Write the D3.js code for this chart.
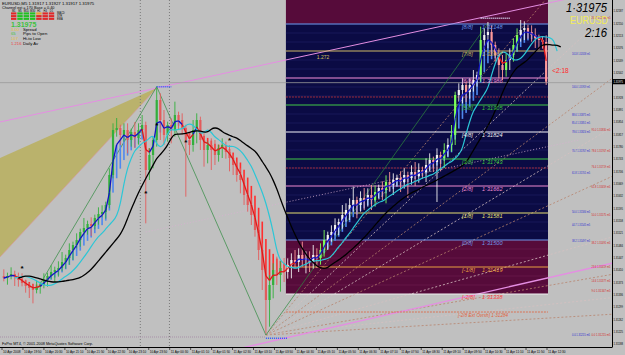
<!DOCTYPE html>
<html>
<head>
<meta charset="utf-8">
<script src="https://cdn.jsdelivr.net/npm/d3@7"></script>
<style>
html, body { margin: 0; padding: 0; background: #c0c0c0; overflow: hidden; }
svg { display: block; font-family: "Liberation Sans", Arial, sans-serif; }
</style>
</head>
<body>
<div id="chart"></div>
<script>
// chart size
const W = 625, H = 355;
const plotRight = 612, plotBottom = 347;
const PIP = 0.0001;

// EURUSD M5 closes
const closes = [
    1.31386, 1.31392, 1.31398, 1.31392, 1.31380, 1.31371, 1.31362, 1.31356, 1.31350, 1.31359,
    1.31365, 1.31380, 1.31392, 1.31404, 1.31410, 1.31416, 1.31434, 1.31446, 1.31470, 1.31485,
    1.31500, 1.31524, 1.31536, 1.31548, 1.31542, 1.31566, 1.31578, 1.31584, 1.31605, 1.31695,
    1.31830, 1.31836, 1.31815, 1.31830, 1.31800, 1.31824, 1.31806, 1.31830, 1.31845, 1.31710,
    1.31755, 1.31800, 1.31920, 1.31860, 1.31815, 1.31845, 1.31830, 1.31875, 1.31860, 1.31836,
    1.31800, 1.31785, 1.31830, 1.31860, 1.31800, 1.31770, 1.31785, 1.31770, 1.31755, 1.31776,
    1.31785, 1.31764, 1.31746, 1.31725, 1.31695, 1.31680, 1.31635, 1.31605, 1.31575, 1.31530,
    1.31470, 1.31410, 1.31320, 1.31365, 1.31410, 1.31395, 1.31416, 1.31404, 1.31425, 1.31440,
    1.31434, 1.31455, 1.31440, 1.31446, 1.31434, 1.31455, 1.31446, 1.31470, 1.31500, 1.31515,
    1.31524, 1.31545, 1.31554, 1.31575, 1.31590, 1.31605, 1.31620, 1.31605, 1.31626, 1.31620,
    1.31635, 1.31620, 1.31644, 1.31656, 1.31650, 1.31674, 1.31665, 1.31680, 1.31686, 1.31674,
    1.31695, 1.31686, 1.31704, 1.31692, 1.31710, 1.31704, 1.31725, 1.31740, 1.31734, 1.31755,
    1.31746, 1.31770, 1.31785, 1.31815, 1.31935, 1.31950, 1.31965, 1.31944, 1.31965, 1.31980,
    1.31995, 1.32100, 1.32115, 1.32124, 1.32085, 1.32055, 1.32025, 1.32010, 1.32040, 1.32055,
    1.32085, 1.32115, 1.32130, 1.32136, 1.32124, 1.32115, 1.32106, 1.32100, 1.32094, 1.31975
];
const firstOpen = 1.31392;
// wick lengths in pips above / below the body
const upWick = [
    2,1,2,1,1,2,1,1,1,2, 1,2,1,2,1,2,3,1,2,1, 2,1,3,1,2,1,2,2,1,2, 2,3,1,2,2,1,3,2,3,1,
    2,1,4,2,3,1,2,4,1,2, 1,2,3,2,1,2,1,2,3,1, 2,1,2,1,1,2,1,1,2,1, 1,2,1,3,2,4,2,3,2,2,
    3,2,4,2,2,3,2,2,3,1, 2,2,1,3,2,2,4,1,2,3, 2,3,2,1,2,2,3,2,1,2, 2,1,2,3,2,1,2,2,1,2,
    1,2,2,3,1,2,2,1,2,3, 1,4,2,3,2,1,2,3,2,2, 2,2,3,2,1,2,2,1,1,2
];
const dnWick = [
    1,2,1,3,2,1,2,3,4,1, 2,1,2,1,3,2,1,2,2,3, 1,2,1,2,3,1,2,1,2,1, 1,2,3,2,4,2,3,2,1,16,
    3,4,2,6,3,2,4,2,3,2, 17,3,2,4,3,5,4,6,3,2, 3,2,4,3,2,4,3,2,3,2, 3,6,10,8,4,3,5,3,2,4,
    2,3,2,4,3,2,3,2,2,3, 2,1,3,2,2,3,2,4,2,3, 2,3,2,2,3,4,2,3,2,3, 2,6,2,3,2,2,3,2,3,12,
    4,3,2,2,3,2,4,3,2,2, 2,2,3,4,3,2,4,3,2,3, 2,2,2,3,2,2,3,3,2,1
];

// time axis labels
const timeLabels = [
    "10 Apr 2008", "10 Apr 19:50", "10 Apr 20:30", "10 Apr 21:10", "10 Apr 21:50", "10 Apr 22:30",
    "10 Apr 23:10", "10 Apr 23:50", "11 Apr 00:30", "11 Apr 01:10", "11 Apr 01:50", "11 Apr 02:30",
    "11 Apr 03:10", "11 Apr 03:50", "11 Apr 04:30", "11 Apr 05:10", "11 Apr 05:50", "11 Apr 06:30",
    "11 Apr 07:10", "11 Apr 07:50", "11 Apr 08:30", "11 Apr 09:10", "11 Apr 09:50", "11 Apr 10:30",
    "11 Apr 11:10", "11 Apr 11:50", "11 Apr 12:30"
];
// price axis labels
const priceTicks = [
    1.32187, 1.32150, 1.32113, 1.32076, 1.32039, 1.32002, 1.31928, 1.31891, 1.31854, 1.31817,
    1.31780, 1.31743, 1.31706, 1.31669, 1.31632, 1.31595, 1.31558, 1.31521, 1.31484, 1.31447,
    1.31410, 1.31373, 1.31336, 1.31299, 1.31262, 1.31225, 1.31188
];
const bidPrice = 1.31975;

// Murrey math levels
const mmNames = ["[-2/8]", "[-1/8]", "[0/8]", "[1/8]", "[2/8]", "[3/8]", "[4/8]", "[5/8]", "[6/8]", "[7/8]", "[8/8]"];
const mmPrices = [1.31338, 1.31419, 1.31500, 1.31581, 1.31662, 1.31743, 1.31824, 1.31905, 1.31986, 1.32067, 1.32148];
const mmStartBar = 78;
const pivotLines = [1.31929, 1.31716];
const extremePrice = 1.31284;

// fib fan from the low to the high
const fanLow = [72, 1.31215];
const fanHigh = [143, 1.32145];
const fanRatios = [1, 0.786, 0.618, 0.5, 0.382, 0.236, 0.146, 0.09, 0.05];

// wedge + trend lines (bar index, price)
const wedgeApex = [42, 1.31956];
const wedgeLeftPrices = [1.31746, 1.31449];
const pinkUpper = [[-1.05, 1.31854], [42, 1.31956]];
const pinkLower = [[57, 1.31155], [171, 1.31440]];
const dottedTrend = [[39, 1.31524], [158, 1.31800]];
const zigzag = [[9, 1.31350], [42, 1.31960], [72, 1.31215], [133, 1.32150]];
const levelMarks = [[42, 46, 1.31960], [72, 78, 1.31205], [131, 139, 1.32165]];
const separatorBars = [38, 46];
const starBars = [5, 42, 39, 50, 62];
const starPrices = [1.31416, 1.31845, 1.31641, 1.31794, 1.31800];

// fib labels at the right
const blueFib = ["161.8", "100.0", "88.6", "85.4", "78.6", "70.7", "61.8", "50.0", "44.7", "38.2", "0.0"];
const bluePrices = [1.32058, 1.31959, 1.31875, 1.31851, 1.31824, 1.31767, 1.31701, 1.31584, 1.31545, 1.31497, 1.31215];
const redFib = ["261.8", "95.0", "78.6", "76.4", "61.8", "50.0", "38.2", "23.6", "14.6", "9.0", "0.0"];
const redPrices = [1.32166, 1.31830, 1.31767, 1.31719, 1.31659, 1.31575, 1.31491, 1.31419, 1.31377, 1.31347, 1.31215];

// info panel
const tfNames = ["M1", "M5", "M15", "M30", "H1", "H4", "D1"];
const rowNames = ["MACD", "STR", "EMA"];
const tfState = [
    [-1, 1, 1, 1, 0, -1, -1],
    [-1, 1, 1, 1, -1, -1, -1],
    [-1, 1, 1, 1, -1, -1, -1]
];
const statValues = ["3.00", "65", "107", "1.216"];
const statNames = ["Spread", "Pips to Open", "Hi-to Low", "Daily Av"];

// ---------------------------------------------------------------
const x = d3.scaleLinear().domain([-0.5, closes.length - 0.5]).range([2, 548]);
const step = x(1) - x(0);
const y = d3.scaleLinear().domain([1.31179, 1.32220]).range([plotBottom, 0]);

const bars = closes.map((c, i) => {
    const o = i ? closes[i - 1] : firstOpen;   // bars open at the previous close
    return { i: i, o: o, c: c, h: Math.max(o, c) + upWick[i] * PIP, l: Math.min(o, c) - dnWick[i] * PIP };
});

function ema(arr, n) {
    const k = 2 / (n + 1), out = [];
    arr.forEach((v, i) => out.push(i ? out[i - 1] + k * (v - out[i - 1]) : v));
    return out;
}
function sma(arr, n) {
    return arr.map((v, i) => d3.mean(arr.slice(Math.max(0, i - n + 1), i + 1)));
}
const fast = ema(closes, 3);
const slow = ema(closes, 8);
const cyan = ema(closes, 6);
const black = sma(closes, 14);

const svg = d3.select("#chart").append("svg")
    .attr("width", W)
    .attr("height", H);

svg.append("rect").attr("width", W).attr("height", H).attr("fill", "#c0c0c0");
svg.append("defs").append("clipPath").attr("id", "plotClip")
    .append("rect").attr("width", plotRight).attr("height", plotBottom);

const g = svg.append("g").attr("clip-path", "url(#plotClip)");

// Murrey boxes
const boxL = x(mmStartBar) - step / 2, boxR = x(closes.length - 1) + step / 2;
const mmStep = mmPrices[1] - mmPrices[0];
g.append("rect").attr("x", boxL).attr("width", boxR - boxL)
    .attr("y", 0).attr("height", y(mmPrices[10])).attr("fill", "#560b3a");
g.append("rect").attr("x", boxL).attr("width", boxR - boxL)
    .attr("y", y(mmPrices[10])).attr("height", y(mmPrices[2]) - y(mmPrices[10])).attr("fill", "#0b0b44");
g.append("rect").attr("x", boxL).attr("width", boxR - boxL)
    .attr("y", y(mmPrices[2])).attr("height", y(mmPrices[0]) - y(mmPrices[2])).attr("fill", "#560b3a");

// faint sub-level lines inside the boxes
const subLevels = d3.range(0, 31).map(k => mmPrices[0] + k * mmStep / 3)
    .filter(p => mmPrices.indexOf(p) < 0);
g.selectAll(".sub").data(subLevels).enter().append("line")
    .attr("class", "sub")
    .attr("x1", boxL).attr("x2", boxR)
    .attr("y1", d => y(d)).attr("y2", d => y(d))
    .attr("stroke", d => (d > mmPrices[2] && d < mmPrices[10]) ? "#23236a" : "#6e1f50")
    .attr("stroke-width", 0.6);

// khaki wedge
const xLeft = x.invert(0);
g.append("path")
    .attr("d", d3.line()([
        [x(xLeft), y(wedgeLeftPrices[0])],
        [x(wedgeApex[0]), y(wedgeApex[1])],
        [x(xLeft), y(wedgeLeftPrices[1])]
    ]) + "Z")
    .attr("fill", "#bab26c");
g.append("line")
    .attr("x1", x(xLeft)).attr("y1", y(wedgeLeftPrices[1]))
    .attr("x2", x(wedgeApex[0])).attr("y2", y(wedgeApex[1]))
    .attr("stroke", "#d89a9a").attr("stroke-width", 0.7);

// period separators
g.selectAll(".sep").data(separatorBars).enter().append("line")
    .attr("x1", d => x(d) - step / 2).attr("x2", d => x(d) - step / 2)
    .attr("y1", 0).attr("y2", plotBottom)
    .attr("stroke", "#7a7a7a").attr("stroke-dasharray", "1,2");

// low dotted line
g.append("line")
    .attr("x1", 0).attr("x2", x(fanLow[0]))
    .attr("y1", y(fanLow[1] - 0.00006)).attr("y2", y(fanLow[1] - 0.00006))
    .attr("stroke", "#a890a8").attr("stroke-dasharray", "1,1");

// fan lines
const barEnd = x.invert(plotRight);
g.selectAll(".fan").data(fanRatios).enter().append("line")
    .attr("x1", x(fanLow[0])).attr("y1", y(fanLow[1]))
    .attr("x2", x(barEnd))
    .attr("y2", r => y(fanLow[1] + r * (fanHigh[1] - fanLow[1]) * (barEnd - fanLow[0]) / (fanHigh[0] - fanLow[0])))
    .attr("stroke", (r, i) => i % 2 ? "#d6c0c0" : "#b8836c")
    .attr("stroke-width", 0.8)
    .attr("stroke-dasharray", "2,2");

// trend lines
function extend(pts, bar) {
    const s = (pts[1][1] - pts[0][1]) / (pts[1][0] - pts[0][0]);
    return pts[0][1] + s * (bar - pts[0][0]);
}
g.append("line")
    .attr("x1", x(pinkUpper[0][0])).attr("y1", y(pinkUpper[0][1]))
    .attr("x2", x(barEnd)).attr("y2", y(extend(pinkUpper, barEnd)))
    .attr("stroke", "#e48ee2").attr("stroke-width", 1);
g.append("line")
    .attr("x1", x(pinkLower[0][0])).attr("y1", y(pinkLower[0][1]))
    .attr("x2", x(barEnd)).attr("y2", y(extend(pinkLower, barEnd)))
    .attr("stroke", "#e48ee2").attr("stroke-width", 1.4);
g.append("line")
    .attr("x1", x(dottedTrend[0][0])).attr("y1", y(dottedTrend[0][1]))
    .attr("x2", x(dottedTrend[1][0])).attr("y2", y(dottedTrend[1][1]))
    .attr("stroke", "#d8b0d0").attr("stroke-width", 0.8).attr("stroke-dasharray", "1,2");

// Murrey lines
const mmColors = ["#f0f0f0", "#e8a040", "#7098e8", "#e8e070", "#f08ad0", "#3cc43c",
    "#eeeeee", "#3cc43c", "#f08ad0", "#c9b45c", "#7098e8"];
g.selectAll(".mm").data(mmPrices).enter().append("line")
    .attr("x1", boxL).attr("x2", boxR)
    .attr("y1", d => y(d)).attr("y2", d => y(d))
    .attr("stroke", (d, i) => mmColors[i])
    .attr("stroke-width", 1.2);
g.selectAll(".piv").data(pivotLines).enter().append("line")
    .attr("x1", boxL).attr("x2", boxR)
    .attr("y1", d => y(d)).attr("y2", d => y(d))
    .attr("stroke", "#a02a3a").attr("stroke-dasharray", "2,1");
g.append("line")
    .attr("x1", boxL).attr("x2", boxR)
    .attr("y1", y(extremePrice)).attr("y2", y(extremePrice))
    .attr("stroke", "#e0603a").attr("stroke-width", 0.8).attr("stroke-dasharray", "2,1");

// bid line
g.append("line")
    .attr("x1", 0).attr("x2", plotRight)
    .attr("y1", y(bidPrice) + 1).attr("y2", y(bidPrice) + 1)
    .attr("stroke", "#9a9a9a").attr("stroke-width", 0.8);

// zigzag
g.append("path")
    .attr("d", d3.line().x(d => x(d[0])).y(d => y(d[1]))(zigzag))
    .attr("fill", "none").attr("stroke", "#2e8a3e").attr("stroke-width", 0.7);

// trend histogram between fast and slow averages
g.selectAll(".ha").data(bars).enter().append("rect")
    .attr("x", d => x(d.i) - 0.8)
    .attr("width", 1.6)
    .attr("y", d => y(Math.max(fast[d.i], slow[d.i])))
    .attr("height", d => Math.max(0.8, Math.abs(y(fast[d.i]) - y(slow[d.i]))))
    .attr("fill", d => fast[d.i] >= slow[d.i] ? "#4f88ee" : "#ff2e2e");

// candles
function candleColor(d) {
    const inBox = d.i >= mmStartBar;
    if (d.c >= d.o) return inBox ? (y(d.o) - y(d.c) > 8 ? "#7dff5a" : "#f2f2f2") : "#32b03c";
    return inBox ? "#ff9a9a" : "#e35b5b";
}
const candle = g.selectAll(".candle").data(bars).enter().append("g");
candle.append("line")
    .attr("x1", d => x(d.i)).attr("x2", d => x(d.i))
    .attr("y1", d => y(d.h)).attr("y2", d => y(d.l))
    .attr("stroke", candleColor).attr("stroke-width", 0.9);
candle.append("rect")
    .attr("x", d => x(d.i) - 1.1)
    .attr("width", 2.2)
    .attr("y", d => y(Math.max(d.o, d.c)))
    .attr("height", d => Math.max(1, Math.abs(y(d.o) - y(d.c))))
    .attr("fill", candleColor);

// fast line coloured by trend
g.selectAll(".fastSeg").data(bars.slice(1)).enter().append("line")
    .attr("x1", d => x(d.i - 1)).attr("y1", d => y(fast[d.i - 1]))
    .attr("x2", d => x(d.i)).attr("y2", d => y(fast[d.i]))
    .attr("stroke", d => fast[d.i] >= slow[d.i] ? "#1212c4" : "#e01818")
    .attr("stroke-width", 1.3);

// shifted averages
const smooth = d3.line().x(d => x(d[0])).y(d => y(d[1])).curve(d3.curveBasis);
g.append("path")
    .attr("d", smooth(cyan.map((v, i) => [i + 3, v])))
    .attr("fill", "none").attr("stroke", "#2cc6d6").attr("stroke-width", 1.2);
g.append("path")
    .attr("d", smooth(black.map((v, i) => [i + 4, v])))
    .attr("fill", "none").attr("stroke", "#000").attr("stroke-width", 1.3);

// level markers
g.selectAll(".lvl").data(levelMarks).enter().append("line")
    .attr("x1", d => x(d[0])).attr("x2", d => x(d[1]))
    .attr("y1", d => y(d[2])).attr("y2", d => y(d[2]))
    .attr("stroke", (d, i) => i === 2 ? "#dde4ff" : "#2f55ff")
    .attr("stroke-width", 1.5).attr("stroke-dasharray", "1,1");

// fractal stars
g.selectAll(".star").data(starBars).enter().append("text")
    .attr("x", d => x(d)).attr("y", (d, i) => y(starPrices[i]) + 3)
    .attr("text-anchor", "middle")
    .attr("font-size", 8).attr("font-weight", "bold")
    .text("*");

// Murrey labels
const mmLabel = svg.append("g").attr("font-style", "italic").attr("font-size", 5.6);
mmPrices.forEach((p, i) => {
    mmLabel.append("text").attr("x", boxR - 86).attr("y", y(p) + 5.4)
        .attr("fill", i === 0 ? "#ff4040" : mmColors[i]).text(mmNames[i]);
    mmLabel.append("text").attr("x", boxR - 66).attr("y", y(p) + 5.4)
        .attr("fill", i === 0 ? "#ff4040" : mmColors[i])
        .text(p.toFixed(5).replace(".", "·"));
});
mmLabel.append("text").attr("x", boxR - 90).attr("y", y(extremePrice) + 5)
    .attr("fill", "#e0603a").attr("font-size", 4.6)
    .text("[-2/8 Ext Ovrsh]  " + extremePrice.toFixed(5).replace(".", "·"));
svg.append("text").attr("x", x(86)).attr("y", y(1.32049) + 2)
    .attr("font-size", 5).attr("fill", "#d6c060").text("1.272");
svg.append("text").attr("x", x(closes.length - 1) + 6).attr("y", y(closes[closes.length - 1]) - 9)
    .attr("font-size", 6.5).attr("fill", "#ff2a2a").text("<2:18");

// fib labels at the right
svg.selectAll(".bf").data(blueFib).enter().append("text")
    .attr("x", 572).attr("y", (d, i) => y(bluePrices[i]) + 1.3)
    .attr("font-size", 3.6).attr("fill", "#2a2ad0")
    .attr("textLength", 18).attr("lengthAdjust", "spacingAndGlyphs")
    .text((d, i) => d + " " + bluePrices[i].toFixed(5) + " m5");
svg.selectAll(".rf").data(redFib).enter().append("text")
    .attr("x", 591.5).attr("y", (d, i) => y(redPrices[i]) + 1.3)
    .attr("font-size", 3.6).attr("fill", "#d42a2a")
    .attr("textLength", 19).attr("lengthAdjust", "spacingAndGlyphs")
    .text((d, i) => d + " " + redPrices[i].toFixed(5) + " m5");

// big symbol / timer text
svg.append("text").attr("x", 566).attr("y", 11.5).attr("font-size", 12).attr("font-style", "italic")
    .attr("textLength", 41).attr("lengthAdjust", "spacingAndGlyphs")
    .attr("fill", "#000").text(bidPrice.toFixed(5).replace(".", "·"));
svg.append("text").attr("x", 570).attr("y", 23.5).attr("font-size", 10.5)
    .attr("textLength", 38).attr("lengthAdjust", "spacingAndGlyphs")
    .attr("fill", "#f2ec58").text("EURUSD");
svg.append("text").attr("x", 585).attr("y", 37).attr("font-size", 12).attr("font-style", "italic")
    .attr("textLength", 22).attr("lengthAdjust", "spacingAndGlyphs")
    .attr("fill", "#000").text("2:16");

// price axis
const axisG = svg.append("g");
axisG.append("line").attr("x1", plotRight + 0.5).attr("x2", plotRight + 0.5)
    .attr("y1", 0).attr("y2", plotBottom).attr("stroke", "#000");
axisG.selectAll(".pt").data(priceTicks).enter().append("text")
    .attr("x", plotRight + 1.6).attr("y", d => y(d) + 1.3)
    .attr("font-size", 3.6).attr("textLength", 9.4).attr("lengthAdjust", "spacingAndGlyphs")
    .attr("fill", "#000")
    .text(d => d.toFixed(5));
axisG.append("rect").attr("x", plotRight + 1).attr("y", y(bidPrice) - 2.6)
    .attr("width", 12).attr("height", 5.2).attr("fill", "#000");
axisG.append("text").attr("x", plotRight + 1.6).attr("y", y(bidPrice) + 1.3)
    .attr("font-size", 3.6).attr("textLength", 9.4).attr("lengthAdjust", "spacingAndGlyphs")
    .attr("fill", "#fff").text(bidPrice.toFixed(5));

// time axis
const tx = d3.scalePoint().domain(timeLabels).range([2, 547]);
axisG.append("line").attr("x1", 0).attr("x2", plotRight + 0.5)
    .attr("y1", plotBottom + 0.5).attr("y2", plotBottom + 0.5).attr("stroke", "#000");
axisG.selectAll(".tt").data(timeLabels).enter().append("line")
    .attr("x1", d => tx(d)).attr("x2", d => tx(d))
    .attr("y1", plotBottom).attr("y2", plotBottom + 3).attr("stroke", "#000").attr("stroke-width", 0.6);
axisG.selectAll(".tl").data(timeLabels).enter().append("text")
    .attr("x", d => tx(d) + 1).attr("y", plotBottom + 6.2)
    .attr("font-size", 4.4).attr("textLength", 17.5).attr("lengthAdjust", "spacingAndGlyphs")
    .text(d => d);

// header and info panel
const info = svg.append("g");
info.append("text").attr("x", 2).attr("y", 5).attr("font-size", 4.3)
    .text("EURUSD,M5  1.31917 1.31927 1.31917 1.31975");
info.append("text").attr("x", 2).attr("y", 8.8).attr("font-size", 3.8)
    .text("Channel ext = 170 Base = 0.40");
tfNames.forEach((n, c) => {
    info.append("text").attr("x", 11 + c * 6.3 + 2.7).attr("y", 11.6)
        .attr("font-size", 2.6).attr("text-anchor", "middle").text(n);
});
tfState.forEach((row, r) => {
    row.forEach((s, c) => {
        info.append("rect").attr("x", 11 + c * 6.3).attr("y", 12.4 + r * 2.7)
            .attr("width", 5.4).attr("height", 2.1)
            .attr("fill", s > 0 ? "#22c022" : (s < 0 ? "#e02828" : "#f0a030"));
    });
    info.append("text").attr("x", 57).attr("y", 14.3 + r * 2.7).attr("font-size", 2.6).text(rowNames[r]);
});
info.append("text").attr("x", 11).attr("y", 26.6).attr("font-size", 7).attr("font-weight", "bold")
    .attr("fill", "#3ec23e").text(bidPrice.toFixed(5));
const statColors = ["#e6c23c", "#3ec23e", "#e6c23c", "#e84040"];
statValues.forEach((v, i) => {
    info.append("text").attr("x", 11).attr("y", 30.8 + i * 4.6).attr("font-size", 4.2)
        .attr("fill", statColors[i]).text(v);
    info.append("text").attr("x", 23).attr("y", 30.8 + i * 4.6).attr("font-size", 4.2)
        .attr("fill", "#000").text(statNames[i]);
});
svg.append("text").attr("x", 2).attr("y", plotBottom - 2).attr("font-size", 3.8)
    .text("FxPro MT4, © 2001-2008 MetaQuotes Software Corp.");
</script>
</body>
</html>
